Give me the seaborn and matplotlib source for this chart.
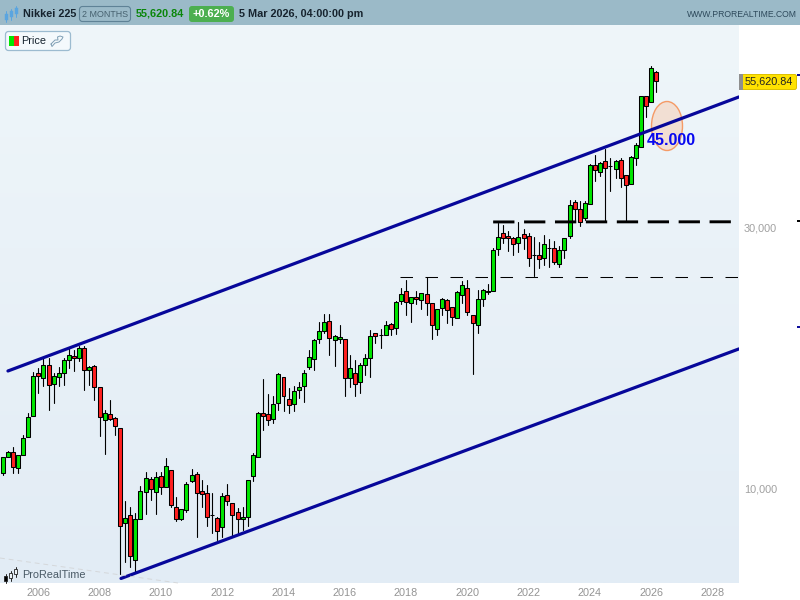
import numpy as np
import pandas as pd
import matplotlib
matplotlib.use('Agg')
import matplotlib.pyplot as plt
import seaborn as sns
from matplotlib.patches import Ellipse, FancyBboxPatch, Rectangle

# Nikkei 225, velas de 2 meses (primera vela: nov 2004)
opens = [10680, 11430, 11670, 10910, 11523, 12430, 13580, 16310, 15930, 16830,
         15540, 16000, 16270, 17190, 17470, 17330, 18090, 16480, 16760, 15340,
         13350, 13730, 13470, 12910, 8650, 8950, 7405, 8800, 9870, 10410,
         9870, 10550, 10070, 10820, 9260, 8800, 9140, 10330, 10640, 9900,
         9820, 8950, 8840, 8510, 9740, 9415, 9060, 8800, 8880, 10550,
         11430, 13770, 13690, 13410, 14340, 16050, 14590, 14280, 15150, 15400,
         16690, 17260, 18770, 19420, 20260, 18700, 18770, 18770, 15930, 16270,
         15670, 16830, 17330, 19260, 19090, 19090, 20000, 19660, 22030, 22970,
         21850, 22400, 22130, 22680, 21850, 19580, 21400, 22130, 21490, 20530,
         22600, 23270, 20770, 19910, 22220, 22950, 23030, 27430, 29340, 28980,
         28730, 28130, 29220, 28980, 26750, 26750, 26410, 27600, 27540, 25780,
         27320, 28980, 33490, 32460, 31260, 33210, 39060, 37930, 39730, 38930,
         38410, 39890, 37450, 36050, 40220, 42130, 52240, 50940, 57780]
closes = [11430, 11670, 10955, 11523, 12378, 13522, 16069, 16110, 16830, 15470,
          16070, 16310, 17190, 17550, 17330, 18090, 16480, 16690, 15340, 13520,
          13790, 13410, 13020, 8550, 8840, 7535, 8800, 9900, 10460, 9990,
          10500, 10070, 11000, 9335, 8800, 9180, 10200, 10590, 9820, 9780,
          8900, 8960, 8370, 9700, 9500, 8950, 8800, 8880, 10370, 11520,
          13790, 13600, 13350, 14280, 16200, 14790, 14230, 15080, 15340, 16310,
          17400, 18700, 19420, 20170, 18850, 19010, 18930, 15930, 16620, 15540,
          16830, 17330, 19010, 19010, 19120, 19910, 19580, 21950, 22680, 21950,
          22400, 22220, 22780, 21850, 19910, 21310, 22220, 21220, 20600, 22930,
          23560, 21020, 20080, 22220, 23070, 22990, 27320, 28860, 28730, 28730,
          28010, 28860, 28730, 26410, 26780, 26300, 28010, 27630, 25970, 27320,
          28730, 33020, 32460, 30740, 33350, 39060, 38240, 39440, 38570, 38960,
          39730, 36980, 35900, 40400, 42490, 52240, 50070, 58780, 55620]
highs = [11455, 11730, 11918, 11523, 12551, 13750, 16380, 16620, 17330, 17330,
         16270, 16730, 17330, 18090, 17950, 18250, 18250, 16780, 16830, 15340,
         13940, 14540, 13520, 12910, 9510, 9285, 9030, 10130, 10755, 10530,
         10755, 10755, 11390, 10820, 9660, 9180, 10310, 10860, 10730, 10390,
         10160, 9820, 8900, 9820, 10200, 9415, 9220, 9260, 10370, 11620,
         13830, 15860, 14900, 14790, 16270, 16050, 15280, 15430, 15670, 16480,
         17950, 18770, 20200, 20890, 20890, 19120, 19940, 18770, 17580, 17210,
         16970, 17650, 19520, 19300, 19580, 20280, 20080, 22030, 23300, 24100,
         22400, 23000, 22840, 24370, 21920, 21310, 22370, 22220, 21540, 22990,
         23970, 24100, 20770, 23100, 23170, 23660, 27540, 30610, 30390, 29630,
         28860, 30740, 29880, 29340, 28860, 28250, 29140, 28610, 28410, 27810,
         28730, 33750, 33750, 33650, 33650, 39220, 40790, 39650, 41880, 40220,
         39940, 40220, 37500, 40620, 42850, 52240, 52240, 59350, 58190]
lows = [10620, 11430, 10710, 10710, 11523, 12430, 13580, 14980, 15430, 13940,
        14380, 15430, 15490, 16620, 16430, 17160, 15170, 15490, 14540, 12500,
        11590, 13370, 12550, 6985, 7365, 7210, 7020, 8800, 9000, 9550,
        9000, 9790, 10070, 9285, 8740, 8780, 9060, 10310, 8180, 9285,
        8560, 8300, 8070, 8180, 9340, 8180, 8275, 8415, 8560, 10350,
        11430, 12820, 13090, 13190, 13940, 13900, 13780, 13890, 14650, 14420,
        16550, 16500, 18510, 19260, 17580, 16780, 18460, 14790, 15380, 14790,
        14960, 16160, 16050, 18510, 18130, 19090, 19120, 19200, 21760, 20800,
        20200, 21760, 21330, 20800, 18800, 19120, 20800, 20150, 19940, 20530,
        21850, 20800, 16220, 19260, 21600, 22720, 23030, 26780, 28130, 27270,
        26780, 27150, 27460, 25560, 24510, 25350, 25670, 25490, 25780, 25490,
        26410, 28730, 31030, 30260, 31030, 33210, 36610, 37340, 30810, 35100,
        36980, 35700, 30810, 36050, 39110, 42130, 47890, 50940, 53260]

# Lineas de tendencia y niveles
upper_years = [2005.01, 2028.86]
upper_prices = [16430, 52080]
lower_years = [2008.70, 2028.86]
lower_prices = [6860, 18030]
thick_years = [2020.84, 2028.86]
thick_prices = [30770, 30790]
thin_years = [2017.8, 2028.86]
thin_prices = [24375, 24375]

x_ticks = list(range(2006, 2030, 2))
y_ticks = [10000, 30000]
y_tick_labels = ['10,000', '30,000']

sns.set_theme(style='white')
plt.rcParams['font.family'] = ['Liberation Sans', 'DejaVu Sans']

fig = plt.figure(figsize=(8, 6), dpi=100, facecolor='white')
ax = fig.add_axes([0, 17 / 600, 739 / 800, 558 / 600])
ax.set_yscale('log')

# Fondo degradado
gradient = np.linspace(0, 1, 256).reshape(-1, 1)
cmap = matplotlib.colors.LinearSegmentedColormap.from_list('bg', ['#eff6fa', '#e2ecf5'])
ax.imshow(gradient, cmap=cmap, extent=(0, 1, 0, 1), transform=ax.transAxes,
          aspect='auto', zorder=0)

# Elipse objetivo
ax.add_patch(Ellipse((667 / 739, 457 / 558), 31 / 739, 49 / 558, transform=ax.transAxes,
                     facecolor='#f2dfd3', edgecolor='#f59a66', lw=1, zorder=1))

df = pd.DataFrame({'open': opens, 'high': highs, 'low': lows, 'close': closes})
df['i'] = df.index
df['year'] = 2006 + (df['i'] - 7) / 6
df['bottom'] = df[['open', 'close']].min(axis=1)
df['height'] = (df['open'] - df['close']).abs().clip(lower=20)

# Mechas
wicks = df.melt(id_vars=['i', 'year'], value_vars=['low', 'high'], value_name='price')
sns.lineplot(data=wicks, x='year', y='price', units='i', estimator=None, sort=False,
             color='black', lw=0.8, legend=False, ax=ax, zorder=2)

# Cuerpos
for sub, color in [(df[df['close'] >= df['open']], '#00e600'),
                   (df[df['close'] < df['open']], '#ff2020')]:
    sns.barplot(data=sub, x='year', y='height', bottom=sub['bottom'].values, native_scale=True,
                color=color, saturation=1, width=0.78, errorbar=None, edgecolor='black',
                linewidth=0.75, ax=ax, zorder=3)

# Canal y niveles
for xs, ys in [(upper_years, upper_prices), (lower_years, lower_prices)]:
    sns.lineplot(x=xs, y=ys, color='#07079a', lw=2.3, errorbar=None, ax=ax, zorder=4)
sns.lineplot(x=thick_years, y=thick_prices, color='black', lw=2.1, errorbar=None, ax=ax,
             zorder=4, linestyle=(0, (7.3, 3.3)))
sns.lineplot(x=thin_years, y=thin_prices, color='black', lw=0.75, errorbar=None, ax=ax,
             zorder=4, linestyle=(0, (12, 12)))

ax.set_xlim(2006 - 38.3 / 30.65, 2006 + (739 - 38.3) / 30.65)
ax.set_ylim(6730, 70500)
ax.set_xlabel('')
ax.set_ylabel('')
ax.set_xticks(x_ticks)
ax.set_xticklabels([str(y) for y in x_ticks], fontsize=7.8, color='#949494')
ax.yaxis.tick_right()
ax.set_yticks(y_ticks)
ax.set_yticklabels(y_tick_labels, fontsize=7.8, color='#a0a0a0')
ax.minorticks_off()
ax.tick_params(axis='both', length=0, pad=3.6)
sns.despine(ax=ax, left=True, right=True, top=True, bottom=True)

# Capa en pixeles para la cabecera y los rotulos
ov = fig.add_axes([0, 0, 1, 1], zorder=5)
ov.set_xlim(0, 800)
ov.set_ylim(600, 0)
ov.axis('off')

ov.add_patch(Rectangle((0, 0), 800, 25, facecolor='#9bbac8', edgecolor='none'))
for x, y0, y1, b0, b1 in [(6, 11, 22, 14, 20), (11, 9, 20, 11, 17), (16, 6, 17, 8, 14)]:
    ov.plot([x, x], [y0, y1], color='#5aa5e0', lw=0.7)
    ov.add_patch(Rectangle((x - 1.5, b0), 3, b1 - b0, facecolor='#5aa5e0', edgecolor='#5aa5e0', lw=0.3))

ov.text(23, 14, 'Nikkei 225', fontsize=7.8, fontweight='bold', color='#16232e', va='center')
ov.add_patch(FancyBboxPatch((79.5, 6.5), 51, 15, boxstyle='round,pad=0,rounding_size=3',
                            facecolor='none', edgecolor='#5f8296', lw=0.8))
ov.text(105, 14.5, '2 MONTHS', fontsize=6.4, color='#46616f', ha='center', va='center')
ov.text(136, 14, '55,620.84', fontsize=7.8, fontweight='bold', color='#0a860a', va='center')
ov.add_patch(FancyBboxPatch((189, 6), 45, 16, boxstyle='round,pad=0,rounding_size=3',
                            facecolor='#4caf50', edgecolor='none'))
ov.text(211.5, 14, '+0.62%', fontsize=7.8, fontweight='bold', color='white', ha='center', va='center')
ov.text(239, 14, '5 Mar 2026, 04:00:00 pm', fontsize=7.8, fontweight='bold', color='#16232e', va='center')
ov.text(797, 14.5, 'WWW.PROREALTIME.COM', fontsize=6.2, color='#2e4a5c', ha='right', va='center')

# Caja "Price"
ov.add_patch(FancyBboxPatch((5.5, 31.5), 65, 19, boxstyle='round,pad=0,rounding_size=3',
                            facecolor='#f4f9fc', edgecolor='#9cbbd0', lw=0.9))
ov.add_patch(Rectangle((9, 36), 5, 10, facecolor='#00e600', edgecolor='none'))
ov.add_patch(Rectangle((14, 36), 5, 10, facecolor='#ff2020', edgecolor='none'))
ov.text(21, 41, 'Price', fontsize=7.8, color='#16232e', va='center')
ov.plot([51, 55, 58, 57.5, 60, 63, 62, 59, 55, 52, 51],
        [44, 40, 40, 37, 36, 37, 39, 42, 43, 46.5, 44], color='#7f9fb5', lw=0.7)

# Etiqueta del ultimo precio
ov.add_patch(FancyBboxPatch((741.5, 74.5), 55, 15, boxstyle='round,pad=0,rounding_size=2',
                            facecolor='#ffe200', edgecolor='#dcc000', lw=0.7))
ov.add_patch(Rectangle((739, 74), 3.5, 16, facecolor='#8f8f8f', edgecolor='none'))
ov.text(768.5, 82, '55,620.84', fontsize=7.8, color='#222222', ha='center', va='center')

ov.text(671.5, 140.5, '45.000', fontsize=11.6, fontweight='bold', color='#0808f0', ha='center', va='center')

# Logo y marcas sueltas
ov.plot([0, 178], [558, 583], color='#cfcfcf', lw=0.7, ls=(0, (5, 4)), alpha=0.7)
for x, y0, y1, b0, b1, fc in [(5.5, 574, 583, 576, 581, 'black'),
                              (10.5, 571, 581, 573, 578, '#eef4f8'),
                              (15.5, 567, 577, 569, 574, '#eef4f8')]:
    ov.plot([x, x], [y0, y1], color='#222222', lw=0.7)
    ov.add_patch(Rectangle((x - 1.3, b0), 2.6, b1 - b0, facecolor=fc, edgecolor='#222222', lw=0.6, zorder=3))
ov.text(22, 575.5, 'ProRealTime', fontsize=7.8, color='#4a5a66', va='center')
for y, c in [(75, '#07079a'), (221, 'black'), (327, '#07079a')]:
    ov.plot([797, 800], [y, y], color=c, lw=1.4, solid_capstyle='butt')

fig.savefig('out.png', dpi=100)
